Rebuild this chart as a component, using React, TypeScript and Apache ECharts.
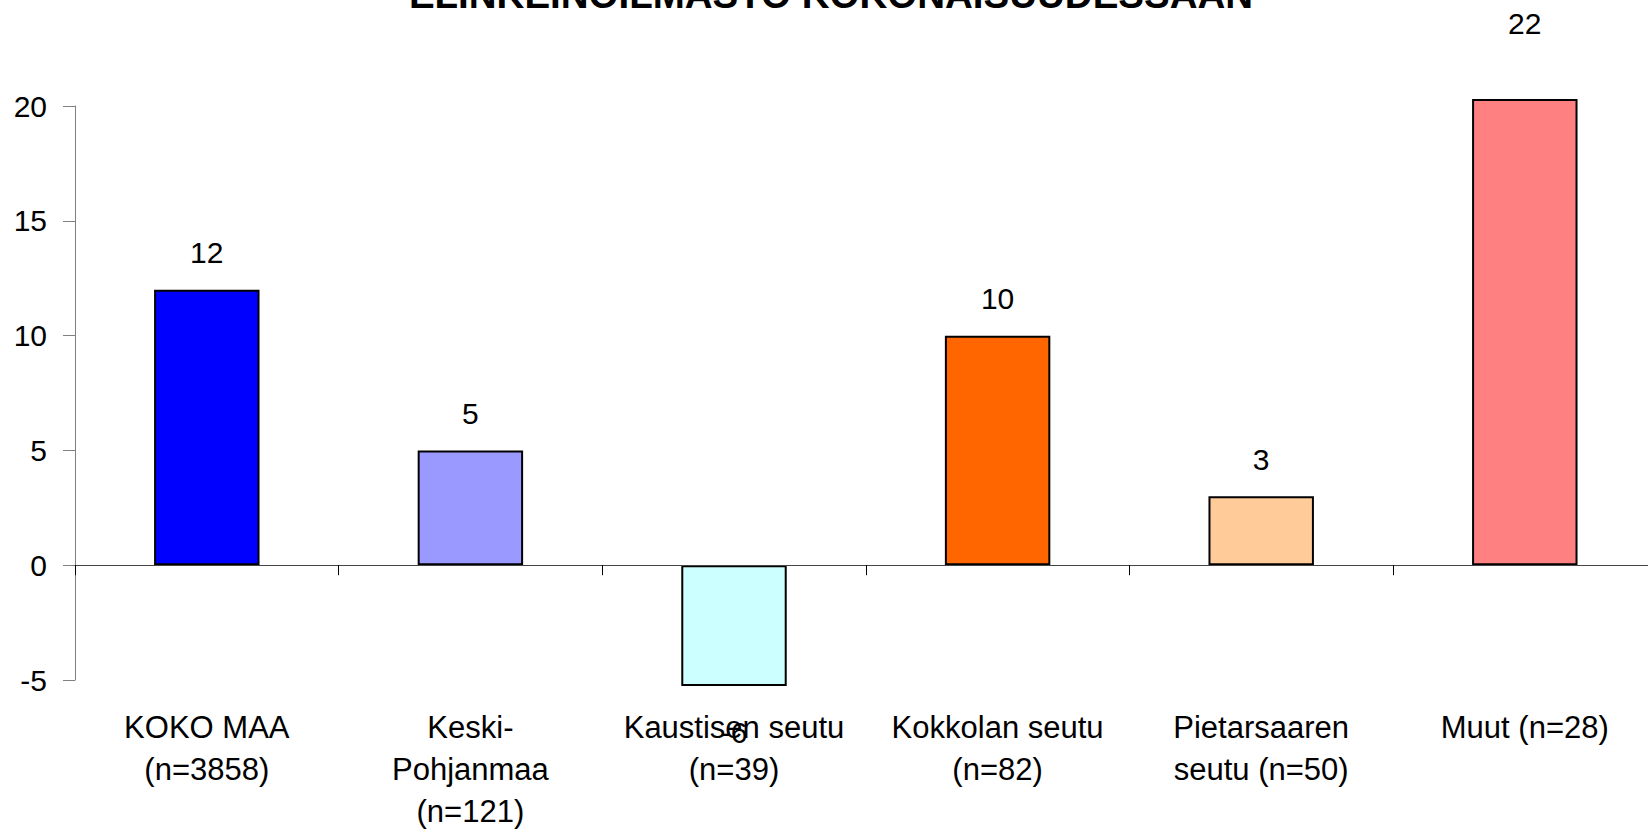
import React, { useEffect, useRef } from "react";
import * as echarts from "echarts";

const titleText = "ELINKEINOILMASTO KOKONAISUUDESSAAN";
const categories = [
  "KOKO MAA\n(n=3858)",
  "Keski-\nPohjanmaa\n(n=121)",
  "Kaustisen seutu\n(n=39)",
  "Kokkolan seutu\n(n=82)",
  "Pietarsaaren\nseutu (n=50)",
  "Muut (n=28)",
];
const values = [12, 5, -6, 10, 3, 22];
const barColors = ["#0000FF", "#9999FF", "#CCFFFF", "#FF6600", "#FFCC99", "#FF8080"];
const yMin = -5;
const yMax = 20;
const yStep = 5;

const FONT = "'Liberation Sans', Arial, sans-serif";

export default function App() {
  const ref = useRef<HTMLDivElement>(null);
  useEffect(() => {
    if (!ref.current) return;
    const chart = echarts.init(ref.current, null, { renderer: "svg" });
    const gridLeft = 75;
    const gridWidth = 1581.6;
    const option: any = {
      animation: false,
      backgroundColor: "#ffffff",
      textStyle: { fontFamily: FONT },
      graphic: [
        {
          type: "text",
          x: 831,
          y: -5.4,
          z: 10,
          style: {
            text: titleText,
            fontFamily: FONT,
            fontWeight: "bold",
            fontSize: 38.5,
            fill: "#000",
            align: "center",
            verticalAlign: "middle",
          },
        },
      ],
      grid: [
        { left: gridLeft, top: 106, width: gridWidth, height: 574, containLabel: false, outerBoundsMode: "none" },
        { left: gridLeft, top: 100, width: gridWidth, height: 585, containLabel: false, outerBoundsMode: "none" },
      ],
      xAxis: [
        {
          type: "category",
          gridIndex: 0,
          data: categories,
          boundaryGap: true,
          z: 3,
          axisLine: { show: true, onZero: true, lineStyle: { color: "#444", width: 1 } },
          axisTick: { show: true, alignWithLabel: false, interval: 0, length: 10, lineStyle: { color: "#000", width: 1 } },
          axisLabel: { show: false },
          splitLine: { show: false },
        },
        {
          type: "category",
          gridIndex: 1,
          data: categories,
          boundaryGap: true,
          position: "bottom",
          axisLine: { show: false, onZero: false },
          axisTick: { show: false },
          axisLabel: {
            show: true,
            interval: 0,
            margin: 21,
            fontSize: 31,
            lineHeight: 42,
            color: "#000",
            fontFamily: FONT,
            align: "center",
          },
          splitLine: { show: false },
        },
      ],
      yAxis: [
        {
          type: "value",
          gridIndex: 0,
          min: yMin,
          max: yMax,
          interval: yStep,
          axisLine: { show: true, lineStyle: { color: "#808080", width: 1 } },
          axisTick: { show: true, length: 12, lineStyle: { color: "#808080", width: 1 } },
          axisLabel: { show: true, margin: 28, fontSize: 30, color: "#000", fontFamily: FONT },
          splitLine: { show: false },
        },
        {
          type: "value",
          gridIndex: 1,
          min: -5.22,
          max: 20.27,
          show: false,
          splitLine: { show: false },
        },
      ],
      series: [
        {
          type: "bar",
          xAxisIndex: 1,
          yAxisIndex: 1,
          barWidth: "40%",
          clip: true,
          z: 2,
          data: values.map((v, i) => ({
            value: v,
            itemStyle: { color: barColors[i], borderColor: "#000", borderWidth: 2 },
          })),
          label: { show: false },
          silent: true,
        },
        {
          type: "scatter",
          xAxisIndex: 1,
          yAxisIndex: 1,
          symbolSize: 0,
          clip: false,
          z: 20,
          zlevel: 1,
          silent: true,
          itemStyle: { color: "#000", opacity: 0 },
          data: values.map((v) => ({
            value: v,
            label: {
              show: true,
              position: v >= 0 ? "top" : "bottom",
              distance: v >= 0 ? 22 : 15,
              formatter: String(v),
              fontSize: 30,
              color: "#000",
              opacity: 1,
              textBorderWidth: 0,
              fontFamily: FONT,
            },
          })),
        },
      ],
    };
    chart.setOption(option);
    return () => chart.dispose();
  }, []);
  return (
    <div style={{ position: "fixed", left: 0, top: 0, width: 1648, height: 830, overflow: "hidden", background: "#fff" }}>
      <div ref={ref} style={{ width: 1700, height: 830 }} />
    </div>
  );
}
